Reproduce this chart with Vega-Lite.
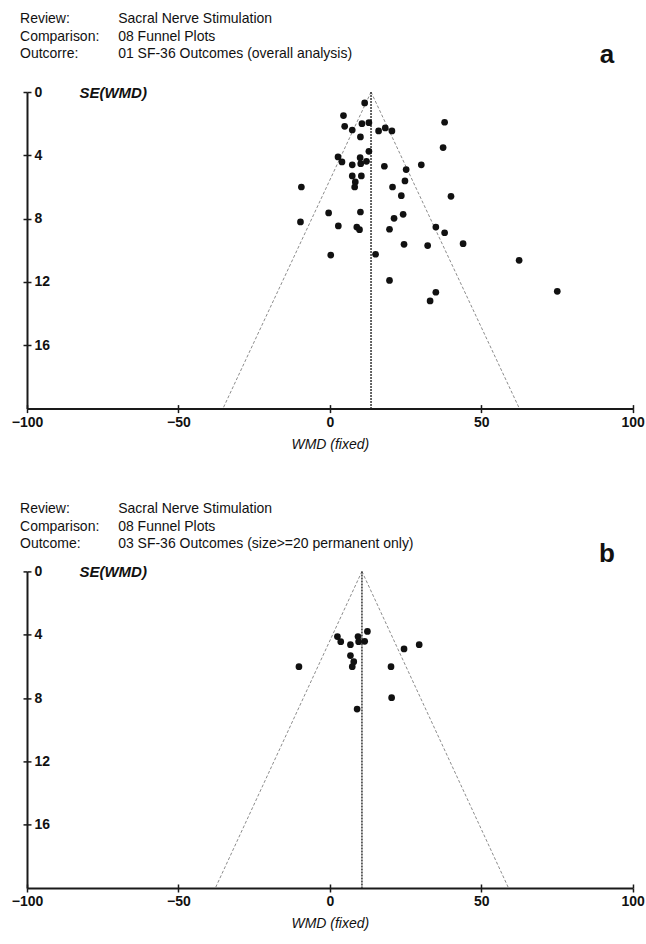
{
  "$schema": "https://vega.github.io/schema/vega-lite/v6.json",
  "padding": {"left": 11, "top": 12, "right": 0, "bottom": 0},
  "bounds": "flush",
  "spacing": 162.4,
  "background": "white",
  "config": {
    "view": {"stroke": null},
    "font": "Liberation Sans",
    "axis": {
      "grid": false,
      "domainColor": "#1a1a1a",
      "domainWidth": 2,
      "tickColor": "#1a1a1a",
      "tickWidth": 1.5,
      "tickSize": 4,
      "labelFont": "Liberation Sans",
      "labelFontWeight": "bold",
      "labelFontSize": 14,
      "labelColor": "#111111",
      "labelFlush": false,
      "labelOverlap": false,
      "titleColor": "#111111",
      "titleFont": "Liberation Sans"
    }
  },
  "datasets": {
    "points": [
      {"panel": "a", "wmd": 11.5, "se": 0.69},
      {"panel": "a", "wmd": 4.5, "se": 1.49},
      {"panel": "a", "wmd": 37.9, "se": 1.91},
      {"panel": "a", "wmd": 4.9, "se": 2.17},
      {"panel": "a", "wmd": 7.4, "se": 2.4},
      {"panel": "a", "wmd": 10.6, "se": 2.0},
      {"panel": "a", "wmd": 12.9, "se": 1.94},
      {"panel": "a", "wmd": 10.1, "se": 2.84},
      {"panel": "a", "wmd": 16.1, "se": 2.46},
      {"panel": "a", "wmd": 18.3, "se": 2.27},
      {"panel": "a", "wmd": 20.5, "se": 2.46},
      {"panel": "a", "wmd": 37.4, "se": 3.51},
      {"panel": "a", "wmd": 12.9, "se": 3.75},
      {"panel": "a", "wmd": 2.7, "se": 4.1},
      {"panel": "a", "wmd": 4.0, "se": 4.42},
      {"panel": "a", "wmd": 7.4, "se": 4.6},
      {"panel": "a", "wmd": 10.0, "se": 4.15},
      {"panel": "a", "wmd": 10.2, "se": 4.53},
      {"panel": "a", "wmd": 12.1, "se": 4.38},
      {"panel": "a", "wmd": 18.0, "se": 4.69},
      {"panel": "a", "wmd": 30.2, "se": 4.6},
      {"panel": "a", "wmd": 25.2, "se": 4.9},
      {"panel": "a", "wmd": 7.4, "se": 5.3},
      {"panel": "a", "wmd": 10.4, "se": 5.3},
      {"panel": "a", "wmd": 8.4, "se": 5.68},
      {"panel": "a", "wmd": 8.2, "se": 6.0},
      {"panel": "a", "wmd": 24.8, "se": 5.62},
      {"panel": "a", "wmd": 20.7, "se": 6.0},
      {"panel": "a", "wmd": 23.6, "se": 6.55},
      {"panel": "a", "wmd": 40.0, "se": 6.59},
      {"panel": "a", "wmd": -9.4, "se": 6.0},
      {"panel": "a", "wmd": -0.4, "se": 7.64},
      {"panel": "a", "wmd": 10.1, "se": 7.58},
      {"panel": "a", "wmd": 24.2, "se": 7.73},
      {"panel": "a", "wmd": 21.2, "se": 7.98},
      {"panel": "a", "wmd": -9.7, "se": 8.21},
      {"panel": "a", "wmd": 2.8, "se": 8.46},
      {"panel": "a", "wmd": 8.9, "se": 8.53},
      {"panel": "a", "wmd": 9.8, "se": 8.7},
      {"panel": "a", "wmd": 19.7, "se": 8.67},
      {"panel": "a", "wmd": 35.0, "se": 8.53},
      {"panel": "a", "wmd": 37.9, "se": 8.89},
      {"panel": "a", "wmd": 24.5, "se": 9.62},
      {"panel": "a", "wmd": 32.3, "se": 9.7},
      {"panel": "a", "wmd": 44.0, "se": 9.58},
      {"panel": "a", "wmd": 0.3, "se": 10.3},
      {"panel": "a", "wmd": 15.1, "se": 10.25},
      {"panel": "a", "wmd": 62.5, "se": 10.63},
      {"panel": "a", "wmd": 19.7, "se": 11.9},
      {"panel": "a", "wmd": 75.1, "se": 12.59},
      {"panel": "a", "wmd": 35.0, "se": 12.65},
      {"panel": "a", "wmd": 33.1, "se": 13.2},
      {"panel": "b", "wmd": 2.5, "se": 4.12},
      {"panel": "b", "wmd": 3.6, "se": 4.44},
      {"panel": "b", "wmd": 6.8, "se": 4.63},
      {"panel": "b", "wmd": 9.3, "se": 4.12},
      {"panel": "b", "wmd": 9.5, "se": 4.44},
      {"panel": "b", "wmd": 11.5, "se": 4.42},
      {"panel": "b", "wmd": 12.4, "se": 3.79},
      {"panel": "b", "wmd": 24.5, "se": 4.9},
      {"panel": "b", "wmd": 29.5, "se": 4.63},
      {"panel": "b", "wmd": 6.8, "se": 5.32},
      {"panel": "b", "wmd": 7.9, "se": 5.7},
      {"panel": "b", "wmd": 7.4, "se": 6.02},
      {"panel": "b", "wmd": -10.2, "se": 6.02},
      {"panel": "b", "wmd": 20.2, "se": 6.02},
      {"panel": "b", "wmd": 20.4, "se": 7.98},
      {"panel": "b", "wmd": 9.0, "se": 8.7}
    ],
    "funnel": [
      {"panel": "a", "wmd0": 13.6, "se0": 0, "wmd1": -35.3, "se1": 20},
      {"panel": "a", "wmd0": 13.6, "se0": 0, "wmd1": 62.6, "se1": 20},
      {"panel": "b", "wmd0": 10.6, "se0": 0, "wmd1": -37.8, "se1": 20},
      {"panel": "b", "wmd0": 10.6, "se0": 0, "wmd1": 59.0, "se1": 20}
    ],
    "centre": [
      {"panel": "a", "wmd": 13.6, "se0": 0, "se1": 20},
      {"panel": "b", "wmd": 10.6, "se0": 0, "se1": 20}
    ],
    "header": [
      {"panel": "a", "labels": "Review:\nComparison:\nOutcorre:", "values": "Sacral Nerve Stimulation\n08 Funnel Plots\n01 SF-36 Outcomes (overall analysis)", "letter": "a"},
      {"panel": "b", "labels": "Review:\nComparison:\nOutcome:", "values": "Sacral Nerve Stimulation\n08 Funnel Plots\n03 SF-36 Outcomes (size>=20 permanent only)", "letter": "b"}
    ]
  },
  "vconcat": [
    {
      "width": 605.7,
      "height": 316.6,
      "resolve": {"axis": {"x": "independent", "y": "independent"}},
      "layer": [
        {
          "data": {"name": "funnel"},
          "transform": [{"filter": "datum.panel === 'a'"}],
          "mark": {"type": "rule", "color": "#8c8c8c", "strokeDash": [3, 2], "strokeWidth": 1},
          "encoding": {
            "x": {"field": "wmd0", "type": "quantitative",
              "scale": {"domain": [-100, 100], "nice": false, "zero": false},
              "axis": {"orient": "bottom", "values": [-100, -50, 0, 50, 100], "title": "WMD (fixed)", "titleFontStyle": "italic", "titleFontWeight": "normal", "titleFontSize": 14, "titlePadding": 8, "labelPadding": 3}},
            "x2": {"field": "wmd1"},
            "y": {"field": "se0", "type": "quantitative",
              "scale": {"domain": [0, 20], "reverse": true, "nice": false, "zero": false},
              "axis": {"orient": "left", "values": [0, 4, 8, 12, 16], "labelAlign": "left", "labelBaseline": "middle", "labelPadding": -11, "title": "SE(WMD)", "titleAngle": 0, "titleX": 52, "titleY": 0, "titleAlign": "left", "titleBaseline": "middle", "titleFontStyle": "italic", "titleFontWeight": "bold", "titleFontSize": 15}},
            "y2": {"field": "se1"}
          }
        },
        {
          "data": {"name": "centre"},
          "transform": [{"filter": "datum.panel === 'a'"}],
          "mark": {"type": "rule", "color": "#333333", "strokeDash": [2, 1], "strokeWidth": 1.5},
          "encoding": {
            "x": {"field": "wmd", "type": "quantitative",
              "axis": {"orient": "bottom", "values": [-100, -50, 0, 50, 100], "tickSize": -4, "labels": false, "domain": false, "title": null}},
            "y": {"field": "se0", "type": "quantitative",
              "axis": {"orient": "left", "values": [0, 4, 8, 12, 16], "tickSize": -4, "labels": false, "domain": false, "title": null}},
            "y2": {"field": "se1"}
          }
        },
        {
          "data": {"name": "points"},
          "transform": [{"filter": "datum.panel === 'a'"}],
          "mark": {"type": "circle", "color": "#111111", "opacity": 1, "size": 45},
          "encoding": {
            "x": {"field": "wmd", "type": "quantitative", "axis": null},
            "y": {"field": "se", "type": "quantitative", "axis": null}
          }
        },
        {
          "data": {"name": "header"},
          "transform": [{"filter": "datum.panel === 'a'"}],
          "mark": {"type": "text", "align": "left", "baseline": "top", "fontSize": 14, "lineHeight": 17.5, "lineBreak": "\n", "color": "#111111"},
          "encoding": {
            "text": {"field": "labels"},
            "x": {"datum": -102.3, "axis": null},
            "y": {"datum": -5.03, "axis": null}
          }
        },
        {
          "data": {"name": "header"},
          "transform": [{"filter": "datum.panel === 'a'"}],
          "mark": {"type": "text", "align": "left", "baseline": "top", "fontSize": 14, "lineHeight": 17.5, "lineBreak": "\n", "color": "#111111"},
          "encoding": {
            "text": {"field": "values"},
            "x": {"datum": -69.9, "axis": null},
            "y": {"datum": -5.03, "axis": null}
          }
        },
        {
          "data": {"name": "header"},
          "transform": [{"filter": "datum.panel === 'a'"}],
          "mark": {"type": "text", "align": "center", "baseline": "middle", "fontSize": 26, "fontWeight": "bold", "color": "#111111"},
          "encoding": {
            "text": {"field": "letter"},
            "x": {"datum": 91.5, "axis": null},
            "y": {"datum": -2.32, "axis": null}
          }
        }
      ]
    },
    {
      "width": 605.7,
      "height": 316.6,
      "resolve": {"axis": {"x": "independent", "y": "independent"}},
      "layer": [
        {
          "data": {"name": "funnel"},
          "transform": [{"filter": "datum.panel === 'b'"}],
          "mark": {"type": "rule", "color": "#8c8c8c", "strokeDash": [3, 2], "strokeWidth": 1},
          "encoding": {
            "x": {"field": "wmd0", "type": "quantitative",
              "scale": {"domain": [-100, 100], "nice": false, "zero": false},
              "axis": {"orient": "bottom", "values": [-100, -50, 0, 50, 100], "title": "WMD (fixed)", "titleFontStyle": "italic", "titleFontWeight": "normal", "titleFontSize": 14, "titlePadding": 8, "labelPadding": 3}},
            "x2": {"field": "wmd1"},
            "y": {"field": "se0", "type": "quantitative",
              "scale": {"domain": [0, 20], "reverse": true, "nice": false, "zero": false},
              "axis": {"orient": "left", "values": [0, 4, 8, 12, 16], "labelAlign": "left", "labelBaseline": "middle", "labelPadding": -11, "title": "SE(WMD)", "titleAngle": 0, "titleX": 52, "titleY": 0, "titleAlign": "left", "titleBaseline": "middle", "titleFontStyle": "italic", "titleFontWeight": "bold", "titleFontSize": 15}},
            "y2": {"field": "se1"}
          }
        },
        {
          "data": {"name": "centre"},
          "transform": [{"filter": "datum.panel === 'b'"}],
          "mark": {"type": "rule", "color": "#333333", "strokeDash": [2, 1], "strokeWidth": 1.5},
          "encoding": {
            "x": {"field": "wmd", "type": "quantitative",
              "axis": {"orient": "bottom", "values": [-100, -50, 0, 50, 100], "tickSize": -4, "labels": false, "domain": false, "title": null}},
            "y": {"field": "se0", "type": "quantitative",
              "axis": {"orient": "left", "values": [0, 4, 8, 12, 16], "tickSize": -4, "labels": false, "domain": false, "title": null}},
            "y2": {"field": "se1"}
          }
        },
        {
          "data": {"name": "points"},
          "transform": [{"filter": "datum.panel === 'b'"}],
          "mark": {"type": "circle", "color": "#111111", "opacity": 1, "size": 45},
          "encoding": {
            "x": {"field": "wmd", "type": "quantitative", "axis": null},
            "y": {"field": "se", "type": "quantitative", "axis": null}
          }
        },
        {
          "data": {"name": "header"},
          "transform": [{"filter": "datum.panel === 'b'"}],
          "mark": {"type": "text", "align": "left", "baseline": "top", "fontSize": 14, "lineHeight": 17.5, "lineBreak": "\n", "color": "#111111"},
          "encoding": {
            "text": {"field": "labels"},
            "x": {"datum": -102.3, "axis": null},
            "y": {"datum": -4.37, "axis": null}
          }
        },
        {
          "data": {"name": "header"},
          "transform": [{"filter": "datum.panel === 'b'"}],
          "mark": {"type": "text", "align": "left", "baseline": "top", "fontSize": 14, "lineHeight": 17.5, "lineBreak": "\n", "color": "#111111"},
          "encoding": {
            "text": {"field": "values"},
            "x": {"datum": -69.9, "axis": null},
            "y": {"datum": -4.37, "axis": null}
          }
        },
        {
          "data": {"name": "header"},
          "transform": [{"filter": "datum.panel === 'b'"}],
          "mark": {"type": "text", "align": "center", "baseline": "middle", "fontSize": 26, "fontWeight": "bold", "color": "#111111"},
          "encoding": {
            "text": {"field": "letter"},
            "x": {"datum": 91.5, "axis": null},
            "y": {"datum": -1.12, "axis": null}
          }
        }
      ]
    }
  ]
}
